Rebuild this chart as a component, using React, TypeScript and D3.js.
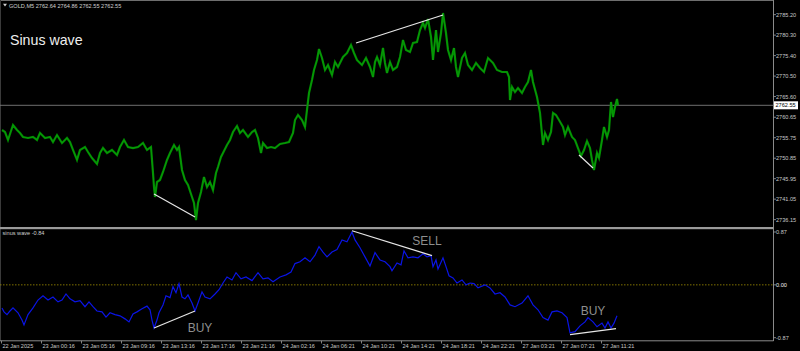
import React, { useEffect } from 'react';
import * as d3 from 'd3';

const W = 800;
const H = 351;

// Price series (bar index, close)
const pricePoints: [number, number][] = [
[2,2756.64],[5,2756.16],[8,2754.25],[13,2757.84],[17,2756.64],[20,2755.92],[23,2754.97],[28,2754.73],[33,2754.97],[37,2754.25],[40,2755.92],[45,2754.73],[50,2754.97],[53,2753.77],[57,2755.44],[62,2753.53],[67,2754.73],[70,2753.77],[73,2751.86],[77,2749.46],[80,2751.86],[85,2752.57],[88,2751.38],[92,2749.94],[97,2748.50],[100,2751.14],[103,2752.33],[107,2751.14],[112,2751.86],[117,2750.66],[120,2752.57],[124,2754.25],[128,2752.57],[133,2752.33],[138,2752.57],[143,2753.53],[147,2751.86],[151,2752.57],[153,2746.35],[154,2743.00],[155,2740.61],[157,2744.20],[160,2744.68],[163,2746.59],[167,2749.46],[170,2751.14],[174,2753.05],[177,2751.86],[179,2752.57],[182,2747.07],[185,2744.68],[188,2743.48],[192,2740.61],[194,2739.17],[196,2735.10],[198,2739.17],[201,2741.80],[204,2745.39],[207,2743.00],[210,2744.20],[213,2742.28],[216,2746.35],[218,2747.79],[221,2750.18],[223,2751.14],[227,2753.05],[230,2754.25],[233,2756.16],[237,2757.60],[240,2755.92],[243,2756.64],[248,2754.97],[252,2756.16],[255,2756.64],[258,2754.73],[261,2751.14],[263,2753.53],[267,2752.33],[271,2752.57],[275,2752.33],[280,2753.29],[285,2753.53],[289,2753.77],[293,2755.92],[295,2759.03],[298,2760.23],[302,2759.03],[305,2757.36],[307,2761.43],[309,2765.49],[312,2768.61],[314,2771.00],[317,2773.39],[319,2776.02],[322,2773.87],[325,2771.00],[328,2772.20],[332,2769.80],[335,2772.91],[338,2771.72],[343,2774.11],[347,2775.07],[351,2776.98],[354,2775.07],[357,2773.39],[362,2772.20],[366,2773.87],[370,2771.72],[373,2769.32],[375,2772.91],[377,2774.11],[380,2772.20],[383,2776.26],[385,2772.67],[387,2770.28],[390,2772.91],[393,2771.00],[397,2771.72],[400,2774.11],[403,2778.18],[406,2775.79],[410,2775.31],[413,2777.46],[417,2777.70],[420,2780.57],[423,2782.25],[425,2781.05],[428,2783.20],[431,2778.90],[433,2773.39],[436,2780.57],[438,2775.31],[441,2779.85],[443,2784.64],[446,2779.85],[448,2775.79],[451,2773.39],[454,2776.26],[456,2771.72],[458,2769.32],[462,2773.87],[465,2775.07],[468,2772.20],[472,2771.00],[476,2772.67],[480,2771.48],[484,2770.52],[488,2773.87],[493,2772.67],[497,2771.00],[502,2770.52],[507,2770.52],[509,2769.32],[510,2763.82],[512,2766.93],[515,2765.73],[518,2766.69],[522,2765.49],[525,2766.93],[528,2768.13],[531,2771.00],[533,2768.13],[537,2764.54],[540,2760.71],[543,2753.05],[545,2755.92],[548,2754.25],[551,2756.16],[553,2760.71],[556,2760.23],[559,2759.03],[563,2757.36],[565,2755.44],[568,2757.36],[572,2754.97],[575,2754.25],[578,2752.33],[581,2750.42],[584,2751.86],[587,2754.01],[590,2752.33],[592,2749.46],[594,2747.07],[597,2751.14],[599,2749.94],[602,2754.25],[604,2757.36],[607,2754.97],[609,2756.64],[611,2763.34],[613,2759.75],[615,2762.14],[617,2764.06],[618,2762.55]
];

// Sinus wave indicator (bar index, value)
const wavePoints: [number, number][] = [
[2,-0.38],[4,-0.445],[7,-0.49],[10,-0.43],[13,-0.38],[18,-0.46],[22,-0.58],[24,-0.66],[28,-0.49],[33,-0.38],[38,-0.25],[43,-0.18],[48,-0.25],[53,-0.20],[58,-0.28],[62,-0.25],[66,-0.15],[70,-0.23],[75,-0.28],[80,-0.26],[85,-0.36],[89,-0.28],[93,-0.36],[97,-0.43],[102,-0.445],[106,-0.53],[110,-0.46],[115,-0.49],[120,-0.51],[125,-0.56],[129,-0.61],[133,-0.48],[137,-0.445],[142,-0.395],[147,-0.35],[150,-0.41],[152,-0.58],[154,-0.71],[157,-0.58],[159,-0.46],[163,-0.33],[166,-0.18],[170,-0.21],[173,-0.03],[176,-0.13],[179,0.02],[182,-0.20],[185,-0.23],[188,-0.165],[192,-0.30],[195,-0.43],[198,-0.30],[202,-0.115],[205,-0.20],[210,-0.23],[215,-0.15],[219,-0.08],[223,0.03],[227,0.13],[232,0.08],[236,0.20],[241,0.10],[246,0.13],[252,0.07],[258,0.20],[263,0.10],[268,0.115],[273,0.05],[280,0.13],[286,0.165],[291,0.21],[295,0.35],[300,0.38],[305,0.445],[310,0.38],[315,0.49],[319,0.63],[323,0.54],[327,0.46],[332,0.54],[337,0.58],[342,0.74],[347,0.71],[352,0.87],[355,0.74],[360,0.61],[365,0.46],[370,0.31],[375,0.53],[380,0.41],[385,0.38],[390,0.30],[392,0.23],[397,0.36],[401,0.33],[404,0.56],[408,0.445],[413,0.46],[418,0.445],[423,0.51],[427,0.46],[431,0.48],[433,0.30],[436,0.41],[438,0.26],[443,0.445],[446,0.30],[449,0.15],[453,0.115],[457,0.03],[462,0.08],[466,0],[470,0.03],[474,0.02],[478,-0.05],[485,0],[490,-0.05],[495,-0.15],[500,-0.13],[505,-0.20],[510,-0.33],[515,-0.36],[522,-0.30],[528,-0.18],[533,-0.33],[538,-0.41],[543,-0.54],[548,-0.58],[552,-0.445],[557,-0.43],[562,-0.46],[567,-0.54],[570,-0.79],[575,-0.77],[580,-0.675],[585,-0.61],[588,-0.54],[593,-0.61],[597,-0.69],[602,-0.63],[605,-0.71],[608,-0.61],[611,-0.71],[614,-0.63],[617,-0.51]
];

// Trend lines on price panel
const priceTrendLines: [number, number][][] = [
  [[154, 2741.33], [195, 2735.82]],
  [[356, 2777.46], [443, 2784.16]],
  [[579, 2750.66], [593, 2747.55]],
];
// Trend lines on indicator panel
const waveTrendLines: [number, number][][] = [
  [[154, -0.71], [195, -0.43]],
  [[352, 0.89], [432, 0.48]],
  [[570, -0.82], [616, -0.72]],
];
const signalLabels: { text: string; bar: number; value: number }[] = [
  { text: 'BUY', bar: 200, value: -0.71 },
  { text: 'SELL', bar: 427, value: 0.73 },
  { text: 'BUY', bar: 593, value: -0.43 },
];

const priceTicks = [2785.20, 2780.30, 2775.40, 2770.50, 2765.60, 2760.65, 2755.75, 2750.85, 2745.95, 2741.05, 2736.15];
const waveTicks = [0.87, 0.0, -0.87];
const timeTickBars = [1, 41, 81, 121, 161, 201, 241, 281, 321, 361, 401, 441, 481, 521, 561, 601];
const timeTickLabels = ['22 Jan 2025', '23 Jan 00:16', '23 Jan 05:16', '23 Jan 09:16', '23 Jan 13:16', '23 Jan 17:16', '23 Jan 21:16', '24 Jan 02:16', '24 Jan 06:21', '24 Jan 10:21', '24 Jan 14:21', '24 Jan 18:21', '24 Jan 22:21', '27 Jan 03:21', '27 Jan 07:21', '27 Jan 11:21'];

const bidPrice = 2762.55;
const headerText = 'GOLD,M5  2762.64 2764.86 2762.55 2762.55';
const indicatorHeader = 'sinus wave -0.84';
const titleText = 'Sinus wave';

const FONT = "'Liberation Sans', Arial, sans-serif";

export default function App() {
  useEffect(() => {
    document.body.style.margin = '0';
    document.body.style.background = '#000';
  }, []);

  const x = d3.scaleLinear().domain([0, 772]).range([0, 772]);
  const yPrice = d3.scaleLinear().domain([2733.19, 2787.51]).range([228, 1]);
  const yWave = d3.scaleLinear().domain([-0.87, 0.87]).range([337.7, 232]);

  const priceLine = d3.line<[number, number]>().x(d => x(d[0])).y(d => yPrice(d[1]));
  const waveLine = d3.line<[number, number]>().x(d => x(d[0])).y(d => yWave(d[1]));

  const axisX = 773.5;
  const bidY = yPrice(bidPrice);

  return (
    <svg width={W} height={H} style={{ position: 'absolute', left: 0, top: 0, background: '#000', display: 'block' }} fontFamily={FONT}>
      <rect x={0} y={0} width={W} height={H} fill="#000" />
      {/* panel frames */}
      <line x1={0} x2={axisX} y1={0.5} y2={0.5} stroke="#6e6e6e" />
      <line x1={0.5} x2={0.5} y1={0} y2={341} stroke="#3a3a3a" />
      <line x1={axisX} x2={axisX} y1={0} y2={341} stroke="#8a8a8a" />
      <rect x={0} y={227} width={axisX} height={2.2} fill="#9a9a9a" />
      <line x1={0} x2={axisX} y1={340.8} y2={340.8} stroke="#8a8a8a" />

      {/* bid line */}
      <line x1={0} x2={axisX} y1={bidY} y2={bidY} stroke="#7a7a7a" strokeWidth={0.9} />

      {/* price series */}
      <path d={priceLine(pricePoints) || ''} fill="none" stroke="#008a00" strokeWidth={2.2} strokeLinejoin="miter" />
      <path d={priceLine(pricePoints) || ''} fill="none" stroke="#14b014" strokeWidth={0.6} strokeLinejoin="miter" opacity={0.7} />
      {priceTrendLines.map((l, i) => (
        <path key={i} d={priceLine(l) || ''} stroke="#e6e6e6" strokeWidth={1.2} fill="none" />
      ))}

      {/* zero line */}
      <line x1={0} x2={axisX} y1={yWave(0)} y2={yWave(0)} stroke="#8f7f00" strokeDasharray="1.5,1.5" strokeWidth={0.9} />
      {/* wave series */}
      <path d={waveLine(wavePoints) || ''} fill="none" stroke="#0a14e6" strokeWidth={1.2} strokeLinejoin="miter" />
      {waveTrendLines.map((l, i) => (
        <path key={i} d={waveLine(l) || ''} stroke="#e6e6e6" strokeWidth={1.2} fill="none" />
      ))}
      {signalLabels.map((s, i) => (
        <text key={i} x={x(s.bar)} y={yWave(s.value)} fill="#8e8e8e" fontSize={12} textAnchor="middle" dominantBaseline="central">{s.text}</text>
      ))}

      {/* headers */}
      <path d="M3,3.8 L7,3.8 L5,6.6 Z" fill="#d0d0d0" />
      <text x={9} y={5.5} fill="#d0d0d0" fontSize={5.6} dominantBaseline="central">{headerText}</text>
      <text x={10} y={39.5} fill="#eeeeee" fontSize={14.2} dominantBaseline="central">{titleText}</text>
      <text x={2.5} y={233.4} fill="#d0d0d0" fontSize={5.6} dominantBaseline="central">{indicatorHeader}</text>

      {/* price axis */}
      {priceTicks.map((t, i) => (
        <g key={i}>
          <line x1={axisX} x2={axisX + 2.5} y1={yPrice(t) + 4} y2={yPrice(t) + 4} stroke="#a0a0a0" strokeWidth={0.8} />
          <text x={776} y={yPrice(t) + 4} fill="#c8c8c8" fontSize={5.6} dominantBaseline="central">{t.toFixed(2)}</text>
        </g>
      ))}
      <rect x={774} y={bidY - 4} width={24} height={8} fill="#ffffff" />
      <text x={775.5} y={bidY} fill="#000" fontSize={5.6} dominantBaseline="central">{bidPrice.toFixed(2)}</text>

      {/* indicator axis */}
      {waveTicks.map((t, i) => (
        <g key={i}>
          <line x1={axisX} x2={axisX + 2.5} y1={yWave(t)} y2={yWave(t)} stroke="#a0a0a0" strokeWidth={0.8} />
          <text x={776} y={yWave(t)} fill={t === 0 ? '#f0f0f0' : '#c8c8c8'} fontSize={5.6} dominantBaseline="central">{t.toFixed(2)}</text>
        </g>
      ))}

      {/* time axis */}
      {timeTickBars.map((b, i) => (
        <g key={i}>
          <line x1={x(b) + 0.5} x2={x(b) + 0.5} y1={340.8} y2={343.5} stroke="#a0a0a0" strokeWidth={0.8} />
          <text x={x(b) + 1.5} y={345.6} fill="#c8c8c8" fontSize={5.6} dominantBaseline="central">{timeTickLabels[i]}</text>
        </g>
      ))}
    </svg>
  );
}
